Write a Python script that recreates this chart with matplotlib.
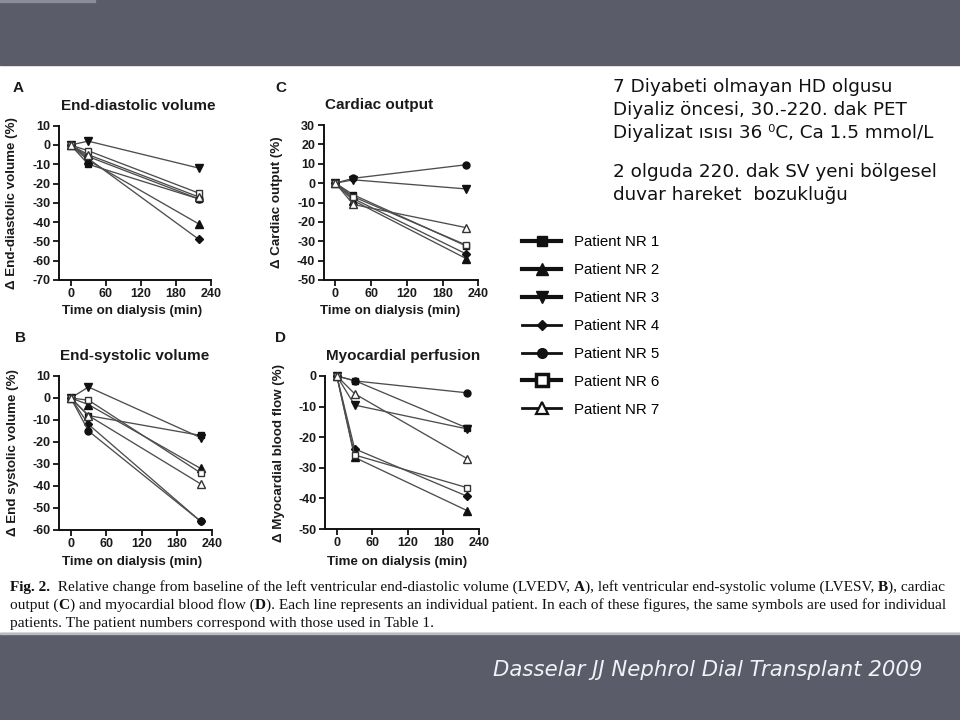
import matplotlib
matplotlib.use('Agg')
import matplotlib.pyplot as plt
from matplotlib.lines import Line2D
from matplotlib.patches import Rectangle

plt.rcParams['axes.unicode_minus'] = False

W, H = 960, 720

# ---------------- data ----------------
times = [0, 30, 220]
patient_labels = ['Patient NR 1', 'Patient NR 2', 'Patient NR 3', 'Patient NR 4',
                  'Patient NR 5', 'Patient NR 6', 'Patient NR 7']

# rows = patients 1..7, columns = times
edv_change = [[0, -10, -28], [0, -8, -41], [0, 2, -12], [0, -7, -49],
              [0, -6, -28], [0, -3, -25], [0, -5, -27]]
esv_change = [[0, -8, -17], [0, -3, -32], [0, 5, -18], [0, -12, -56],
              [0, -15, -56], [0, -1, -34], [0, -8, -39]]
co_change = [[0, -6, -32.5], [0, -9, -39], [0, 1.7, -3], [0, -8, -36.6],
             [0, 2.5, 9.5], [0, -7, -32], [0, -11, -23]]
mbf_change = [[0, -1.5, -17], [0, -26.6, -44], [0, -9.5, -17.3], [0, -23.8, -39.3],
              [0, -1.6, -5.5], [0, -25.8, -36.5], [0, -5.8, -27]]

xticks = [0, 60, 120, 180, 240]

# ---------------- styles ----------------
fc = '#111111'
mstyles = [dict(marker='s', mfc=fc, mec=fc, ms=5),
           dict(marker='^', mfc=fc, mec=fc, ms=5.5),
           dict(marker='v', mfc=fc, mec=fc, ms=5.5),
           dict(marker='D', mfc=fc, mec=fc, ms=4.2),
           dict(marker='o', mfc=fc, mec=fc, ms=5),
           dict(marker='s', mfc='white', mec='#333333', ms=5, mew=1.0),
           dict(marker='^', mfc='white', mec='#333333', ms=5.5, mew=1.0)]
leg_styles = [dict(marker='s', mfc=fc, mec=fc, ms=7, lw=3.0),
              dict(marker='^', mfc=fc, mec=fc, ms=8, lw=3.0),
              dict(marker='v', mfc=fc, mec=fc, ms=8, lw=3.0),
              dict(marker='D', mfc=fc, mec=fc, ms=5.5, lw=2.0),
              dict(marker='o', mfc=fc, mec=fc, ms=7, lw=2.0),
              dict(marker='s', mfc='white', mec=fc, ms=8, mew=2.5, lw=3.0),
              dict(marker='^', mfc='white', mec=fc, ms=8, mew=1.6, lw=2.0)]

sans = 'Liberation Sans'

fig = plt.figure(figsize=(W / 100, H / 100), dpi=100)
fig.patch.set_facecolor('white')

band = '#5a5c6a'
fig.patches.append(Rectangle((0, 1 - 65 / H), 1, 65 / H, transform=fig.transFigure,
                             color=band, zorder=0))
fig.patches.append(Rectangle((0, 1 - 2 / H), 95 / W, 2 / H, transform=fig.transFigure,
                             color='#8a8c98', zorder=1))
fig.patches.append(Rectangle((0, 0), 1, 87 / H, transform=fig.transFigure,
                             color=band, zorder=0))
fig.patches.append(Rectangle((0, 87 / H - 1 / H), 1, 1.5 / H, transform=fig.transFigure,
                             color='#b8b9c2', zorder=1))


def px(x, y):
    return x / W, 1 - y / H


panels = [
    dict(letter='A', letter_xy=(18, 88), title='End-diastolic volume', title_xy=(138, 106),
         ylabel='Δ End-diastolic volume (%)', ylab_x=18, xlab_xy=(132, 311),
         data=edv_change, ylim=(-70, 10), box=(59, 125.7, 210.7, 280)),
    dict(letter='C', letter_xy=(281, 88), title='Cardiac output', title_xy=(379, 105),
         ylabel='Δ Cardiac output (%)', ylab_x=283, xlab_xy=(390, 311),
         data=co_change, ylim=(-50, 30), box=(323.5, 125, 478.3, 280)),
    dict(letter='B', letter_xy=(20, 338), title='End-systolic volume', title_xy=(135, 356),
         ylabel='Δ End systolic volume (%)', ylab_x=19, xlab_xy=(132, 562),
         data=esv_change, ylim=(-60, 10), box=(59, 376, 212.3, 530)),
    dict(letter='D', letter_xy=(281, 338), title='Myocardial perfusion', title_xy=(403, 356),
         ylabel='Δ Myocardial blood flow (%)', ylab_x=285, xlab_xy=(397, 562),
         data=mbf_change, ylim=(-50, 0), box=(325, 376, 479, 529)),
]

for p in panels:
    l, t, r, b = p['box']
    ax = fig.add_axes([l / W, 1 - b / H, (r - l) / W, (b - t) / H])
    for vals, st in zip(p['data'], mstyles):
        ax.plot(times, vals, color='#4d4d4d', lw=0.95, clip_on=False, **st)
    ax.set_xlim(-20, 240)
    ax.set_ylim(*p['ylim'])
    ax.set_xticks(xticks)
    ax.set_yticks(range(p['ylim'][0], p['ylim'][1] + 1, 10))
    for s in ['top', 'right']:
        ax.spines[s].set_visible(False)
    for s in ['left', 'bottom']:
        ax.spines[s].set_linewidth(1.4)
        ax.spines[s].set_color('#111111')
    ax.tick_params(direction='out', length=4, width=1.3, color='#111111', pad=2)
    for lab in ax.get_xticklabels() + ax.get_yticklabels():
        lab.set_fontfamily(sans)
        lab.set_fontweight('bold')
        lab.set_fontsize(9)
        lab.set_color('#1a1a1a')
    ax.set_ylabel(p['ylabel'], fontfamily=sans, fontweight='bold', fontsize=9.6, color='#1a1a1a')
    ax.yaxis.set_label_coords((p['ylab_x'] - l) / (r - l), 0.5)
    ax.set_xlabel('Time on dialysis (min)', fontfamily=sans, fontweight='bold', fontsize=9.6,
                  color='#1a1a1a')
    xlx, xly = p['xlab_xy']
    ax.xaxis.set_label_coords((xlx - l) / (r - l), (b - xly) / (b - t))
    ax.xaxis.label.set_va('center')
    fig.text(*px(*p['title_xy']), p['title'], fontfamily=sans, fontweight='bold', fontsize=11,
             ha='center', va='center', color='#1a1a1a')
    fig.text(*px(*p['letter_xy']), p['letter'], fontfamily=sans, fontweight='bold', fontsize=11,
             ha='center', va='center', color='#1a1a1a')

# legend
handles = [Line2D([], [], color=fc, **st) for st in leg_styles]
fig.legend(handles, patient_labels, loc='upper left', bbox_to_anchor=px(522, 235),
           frameon=False, handlelength=2.6, handletextpad=0.85, labelspacing=0.93,
           prop=dict(family=sans, size=10.8), borderaxespad=0, borderpad=0)

# right side text
notes = ['7 Diyabeti olmayan HD olgusu', 'Diyaliz öncesi, 30.-220. dak PET',
         'Diyalizat ısısı 36 ⁰C, Ca 1.5 mmol/L', '2 olguda 220. dak SV yeni bölgesel',
         'duvar hareket  bozukluğu']
note_y = [92, 115, 138, 177, 200]
for s, y in zip(notes, note_y):
    fig.text(*px(613, y), s, fontfamily='DejaVu Sans', fontsize=13.2, va='baseline', ha='left',
             color='#111111')

# caption with mixed weights
renderer = fig.canvas.get_renderer()


def seg_width(s, bold, size):
    t1 = fig.text(0, 0, s + '|', fontfamily='Liberation Serif', fontsize=size,
                  weight='bold' if bold else 'normal')
    t2 = fig.text(0, 0, '|', fontfamily='Liberation Serif', fontsize=size,
                  weight='bold' if bold else 'normal')
    w = t1.get_window_extent(renderer).width - t2.get_window_extent(renderer).width
    t1.remove()
    t2.remove()
    return w


cap_lines = [
    [('Fig. 2.', True), ('  Relative change from baseline of the left ventricular end-diastolic volume (LVEDV, ', False),
     ('A', True), ('), left ventricular end-systolic volume (LVESV, ', False), ('B', True), ('), cardiac', False)],
    [('output (', False), ('C', True), (') and myocardial blood flow (', False), ('D', True),
     ('). Each line represents an individual patient. In each of these figures, the same symbols are used for individual', False)],
    [('patients. The patient numbers correspond with those used in Table 1.', False)],
]
cap_y = [591, 609, 627]
size = 10
for i, (segs, y) in enumerate(zip(cap_lines, cap_y)):
    if i < 2:
        wtot = sum(seg_width(s, bb, 10) for s, bb in segs)
        size = 10 * 935 / wtot
    x = 10
    for s, bb in segs:
        fig.text(*px(x, y), s, fontfamily='Liberation Serif', fontsize=size,
                 weight='bold' if bb else 'normal', va='baseline', ha='left', color='#111111')
        x += seg_width(s, bb, size)

# citation
cite = 'Dasselar JJ Nephrol Dial Transplant 2009'
ct = fig.text(*px(922, 676), cite, fontfamily='DejaVu Sans', style='italic', fontsize=14,
              color='#f2f2f6', ha='right', va='baseline')
cw = ct.get_window_extent(renderer).width
ct.set_fontsize(14 * 432 / cw)

fig.savefig('out.png', dpi=100)
